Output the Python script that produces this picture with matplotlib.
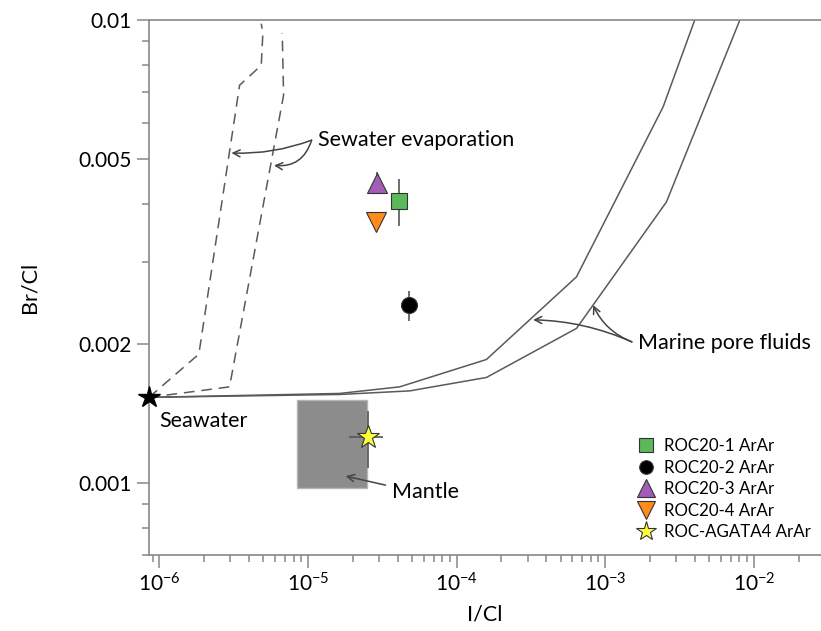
import matplotlib
matplotlib.use('Agg')
import matplotlib.pyplot as plt
import numpy as np
from matplotlib.patches import Rectangle

plt.rcParams['font.family'] = ['Lato', 'DejaVu Sans']
plt.rcParams['mathtext.fontset'] = 'custom'
plt.rcParams['mathtext.rm'] = 'Lato'
plt.rcParams['mathtext.default'] = 'regular'

# seawater reference point
sw_icl = 8.5e-7
sw_brcl = 1.53e-3

# seawater evaporation trends (two bounds)
evap1_x = [8.5e-7, 1.84e-6, 3.46e-6, 4.84e-6, 4.96e-6, 4.84e-6]
evap1_y = [1.53e-3, 1.897e-3, 7.23e-3, 7.98e-3, 9.35e-3, 9.82e-3]
evap2_x = [8.5e-7, 2.96e-6, 6.84e-6, 6.7e-6]
evap2_y = [1.53e-3, 1.612e-3, 6.88e-3, 9.36e-3]

# marine pore fluid envelope
pore1_x = [8.5e-7, 1.63e-5, 4.13e-5, 1.585e-4, 6.4e-4, 2.45e-3, 4.0e-3]
pore1_y = [1.53e-3, 1.56e-3, 1.612e-3, 1.847e-3, 2.786e-3, 6.49e-3, 1e-2]
pore2_x = [8.5e-7, 1.63e-5, 4.83e-5, 1.585e-4, 6.4e-4, 2.58e-3, 8.05e-3]
pore2_y = [1.53e-3, 1.552e-3, 1.58e-3, 1.689e-3, 2.156e-3, 4.045e-3, 1e-2]

# mantle field
mantle_x = [8.4e-6, 2.5e-5]
mantle_y = [0.977e-3, 1.509e-3]

# samples
names = ['ROC20-1 ArAr', 'ROC20-2 ArAr', 'ROC20-3 ArAr', 'ROC20-4 ArAr', 'ROC-AGATA4 ArAr']
icl = [4.09e-5, 4.78e-5, 2.92e-5, 2.88e-5, 2.53e-5]
brcl = [4.06e-3, 2.42e-3, 4.45e-3, 3.66e-3, 1.253e-3]
icl_err = [0, 0, 0, 0, 0.64e-5]
brcl_err = [0.47e-3, 0.18e-3, 0.25e-3, 0, 0.175e-3]
markers = ['s', 'o', '^', 'v', '*']
colors = ['#5cb85c', 'black', '#a35db6', '#ff8c1a', '#ffff3c']
msizes = [12, 11.5, 15, 15, 17]

fig = plt.figure(figsize=(8.21, 6.31), dpi=100)
ax = fig.add_axes([0.1815, 0.1212, 0.8185, 0.8471])

ax.set_xscale('log')
ax.set_yscale('log')
ax.set_xlim(8.5e-7, 0.0283)
ax.set_ylim(7e-4, 1e-2)

line_c = '#5a5a5a'
ax.plot(evap1_x, evap1_y, '--', color=line_c, lw=1.1, dashes=(7, 4.5))
ax.plot(evap2_x, evap2_y, '--', color=line_c, lw=1.1, dashes=(7, 4.5))
ax.plot(pore1_x, pore1_y, '-', color=line_c, lw=1.1)
ax.plot(pore2_x, pore2_y, '-', color=line_c, lw=1.1)

ax.add_patch(Rectangle((mantle_x[0], mantle_y[0]), mantle_x[1] - mantle_x[0],
                       mantle_y[1] - mantle_y[0], facecolor='#8c8c8c',
                       edgecolor='#b5b5b5', lw=1, zorder=2))

ax.plot(sw_icl, sw_brcl, '*', color='black', ms=16, clip_on=False, zorder=5)

for i in range(len(names)):
    ax.errorbar(icl[i], brcl[i], xerr=icl_err[i] or None, yerr=brcl_err[i] or None,
                fmt='none', ecolor='#555555', elinewidth=1.2, capsize=0, zorder=3)
    ax.plot(icl[i], brcl[i], markers[i], color=colors[i], mec='#333333', mew=0.8,
            ms=msizes[i], label=names[i], zorder=4)

# text labels and arrows
fs = 15.5
arr = dict(arrowstyle='->,head_length=0.5,head_width=0.25', color='#444444', lw=1.1,
           shrinkA=0, shrinkB=0)
ax.text(1.16e-5, 5.5e-3, 'Sewater evaporation', fontsize=fs, va='center', ha='left')
ax.annotate('', xy=(3.05e-6, 5.16e-3), xytext=(1.056e-5, 5.5e-3),
            arrowprops=dict(arr, connectionstyle='arc3,rad=-0.1'))
ax.annotate('', xy=(5.89e-6, 4.85e-3), xytext=(1.056e-5, 5.5e-3),
            arrowprops=dict(arr, connectionstyle='arc3,rad=-0.4'))

ax.text(1.66e-3, 2.01e-3, 'Marine pore fluids', fontsize=fs, va='center', ha='left')
ax.annotate('', xy=(3.27e-4, 2.25e-3), xytext=(1.51e-3, 2.016e-3),
            arrowprops=dict(arr, connectionstyle='arc3,rad=0.1'))
ax.annotate('', xy=(8.28e-4, 2.42e-3), xytext=(1.51e-3, 2.016e-3),
            arrowprops=dict(arr, connectionstyle='arc3,rad=-0.2'))

ax.text(3.65e-5, 0.955e-3, 'Mantle', fontsize=fs, va='center', ha='left')
ax.annotate('', xy=(1.79e-5, 1.034e-3), xytext=(3.32e-5, 0.9886e-3),
            arrowprops=dict(arr))

ax.text(1.0e-6, 1.36e-3, 'Seawater', fontsize=fs, va='center', ha='left')

# axes styling
spine_c = '#888888'
for s in ['left', 'bottom', 'top']:
    ax.spines[s].set_color(spine_c)
    ax.spines[s].set_linewidth(1.2)
ax.spines['right'].set_visible(False)

ax.set_yticks([1e-3, 2e-3, 5e-3, 1e-2])
ax.set_yticklabels(['0.001', '0.002', '0.005', '0.01'])
ax.set_yticks([7e-4, 8e-4, 9e-4, 3e-3, 4e-3, 6e-3, 7e-3, 8e-3, 9e-3], minor=True)
ax.yaxis.set_minor_formatter(matplotlib.ticker.NullFormatter())
ax.xaxis.set_minor_locator(matplotlib.ticker.LogLocator(base=10, subs=np.arange(2, 10)))
ax.xaxis.set_minor_formatter(matplotlib.ticker.NullFormatter())

ax.tick_params(which='both', direction='out', color=spine_c, width=1.1, labelsize=15)
ax.tick_params(which='major', length=9)
ax.tick_params(which='minor', length=5)
ax.tick_params(axis='x', which='major', pad=4)

ax.set_xlabel('I/Cl', fontsize=fs, labelpad=6)
ax.set_ylabel('Br/Cl', fontsize=fs, labelpad=28)

ax.legend(loc='upper left', bbox_to_anchor=(638 / 821, 1 - 438 / 631),
          bbox_transform=fig.transFigure, frameon=False, fontsize=12.2,
          handlelength=1.0, handletextpad=0.55, labelspacing=0.33, borderpad=0,
          markerscale=0.85, borderaxespad=0)

fig.savefig('out.png', dpi=100)
